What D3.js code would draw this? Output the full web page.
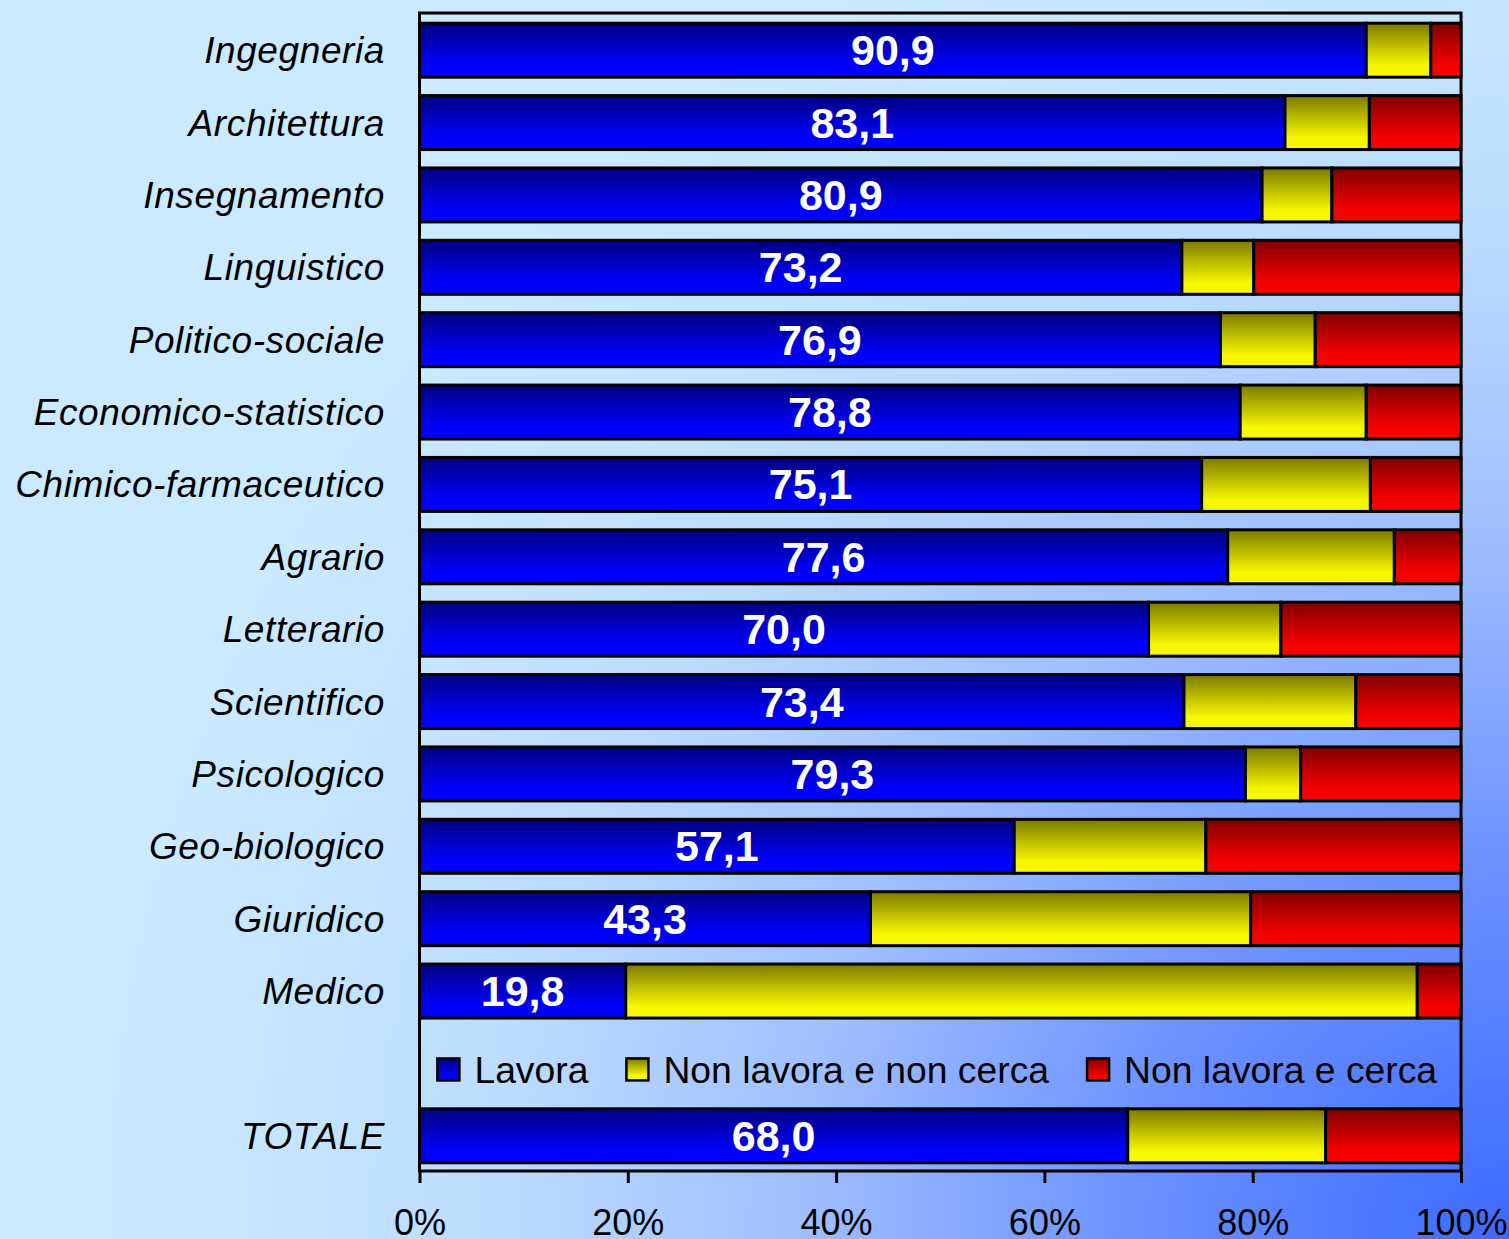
<!DOCTYPE html>
<html>
<head>
<meta charset="utf-8">
<script src="https://cdn.jsdelivr.net/npm/d3@7"></script>
<style>
  html, body { margin: 0; padding: 0; background: #c8e8ff; }
  svg { display: block; }
  text { font-family: "Liberation Sans", Arial, sans-serif; }
</style>
</head>
<body>
<svg id="chart" width="1509" height="1239"></svg>
<script>
// Condizione occupazionale dei laureati per gruppo di corsi (%)
const categories = [
  "Ingegneria", "Architettura", "Insegnamento", "Linguistico", "Politico-sociale",
  "Economico-statistico", "Chimico-farmaceutico", "Agrario", "Letterario",
  "Scientifico", "Psicologico", "Geo-biologico", "Giuridico", "Medico", "TOTALE"
];
const lavora            = [90.9, 83.1, 80.9, 73.2, 76.9, 78.8, 75.1, 77.6, 70.0, 73.4, 79.3, 57.1, 43.3, 19.8, 68.0];
const nonLavoraNonCerca = [ 6.2,  8.1,  6.7,  6.9,  9.1, 12.1, 16.2, 16.0, 12.7, 16.5,  5.3, 18.4, 36.5, 76.0, 19.0];
const nonLavoraCerca    = [ 2.9,  8.8, 12.4, 19.9, 14.0,  9.1,  8.7,  6.4, 17.3, 10.1, 15.4, 24.5, 20.2,  4.2, 13.0];
const seriesNames = ["Lavora", "Non lavora e non cerca", "Non lavora e cerca"];
const tickValues = [0, 20, 40, 60, 80, 100];

const W = 1509, H = 1239;
const svg = d3.select("#chart");
const defs = svg.append("defs");

// page background: light sky blue fading to deep blue towards the lower right
const bg = defs.append("radialGradient").attr("id", "bg")
  .attr("gradientUnits", "userSpaceOnUse")
  .attr("cx", W).attr("cy", H).attr("r", 1400);
[[0, "#3c6aff"], [0.26, "#6a90ff"], [0.5, "#9ebeff"], [0.72, "#bcdcff"], [0.9, "#c6e6ff"], [1, "#cbe9ff"]]
  .forEach(([o, c]) => bg.append("stop").attr("offset", o).attr("stop-color", c));
svg.append("rect").attr("width", W).attr("height", H).attr("fill", "url(#bg)");

// vertical shading for each series
const palette = [["#000080", "#0000ff"], ["#7a7a00", "#f7f700"], ["#800000", "#f70000"]];
palette.forEach((p, i) => {
  const g = defs.append("linearGradient").attr("id", "g" + i)
    .attr("x1", 0).attr("y1", 0).attr("x2", 0).attr("y2", 1);
  g.append("stop").attr("offset", 0).attr("stop-color", p[0]);
  g.append("stop").attr("offset", 0.78).attr("stop-color", p[1]);
  g.append("stop").attr("offset", 1).attr("stop-color", p[1]);
});

const plot = { left: 419.5, right: 1461, top: 13, bottom: 1171 };
const legendSlot = " ";
const slots = categories.slice(0, -1).concat([legendSlot, categories[categories.length - 1]]);

const x = d3.scaleLinear().domain([0, 100]).range([plot.left, plot.right]);
const y = d3.scaleBand().domain(slots).range([plot.top + 1, plot.bottom + 1])
  .paddingInner(0.254).paddingOuter(0.127);
const bw = y.bandwidth();

const rows = categories.map((c, i) => {
  const vals = [lavora[i], nonLavoraNonCerca[i], nonLavoraCerca[i]];
  let acc = 0;
  return { cat: c, segs: vals.map((v, k) => { const s = { k, x0: acc, x1: acc + v }; acc += v; return s; }) };
});

// stacked bars
const bars = svg.append("g");
rows.forEach(r => {
  bars.selectAll(null).data(r.segs).enter().append("rect")
    .attr("x", d => x(d.x0))
    .attr("y", y(r.cat))
    .attr("width", d => x(d.x1) - x(d.x0))
    .attr("height", bw)
    .attr("fill", d => "url(#g" + d.k + ")")
    .attr("stroke", "#000")
    .attr("stroke-width", 3);
});

// plot frame
svg.append("rect")
  .attr("x", plot.left).attr("y", plot.top)
  .attr("width", plot.right - plot.left).attr("height", plot.bottom - plot.top)
  .attr("fill", "none").attr("stroke", "#000").attr("stroke-width", 3);

// values inside the "Lavora" segment
const itFmt = d3.formatLocale({ decimal: ",", thousands: ".", grouping: [3], currency: ["", "€"] }).format(".1f");
svg.append("g").selectAll("text").data(rows).enter().append("text")
  .attr("x", (d, i) => (x(0) + x(lavora[i])) / 2)
  .attr("y", d => y(d.cat) + bw / 2)
  .attr("dy", "0.35em")
  .attr("text-anchor", "middle")
  .attr("fill", "#fff")
  .attr("font-weight", "bold")
  .attr("font-size", 43)
  .text((d, i) => itFmt(lavora[i]));

// category labels
svg.append("g").selectAll("text").data(categories).enter().append("text")
  .attr("x", 385)
  .attr("y", d => y(d) + bw / 2)
  .attr("dy", "0.35em")
  .attr("text-anchor", "end")
  .attr("font-style", "italic")
  .attr("font-size", 37)
  .attr("letter-spacing", 0.6)
  .attr("fill", "#000")
  .text(d => d);

// x axis
const axis = svg.append("g").attr("transform", `translate(0,${plot.bottom})`)
  .call(d3.axisBottom(x).tickValues(tickValues).tickSize(12).tickPadding(26).tickFormat(d => d + "%"));
axis.select(".domain").remove();
axis.selectAll(".tick line").attr("stroke", "#000").attr("stroke-width", 3);
axis.selectAll(".tick text")
  .attr("font-family", "'Liberation Sans', Arial, sans-serif")
  .attr("font-size", 36).attr("fill", "#000");

// legend in the empty slot above TOTALE
const legendY = y(legendSlot) + bw / 2 + 6;
const leg = svg.append("g");
const sq = 22, gapText = 15, gapItem = 38;
let cursor = 0;
seriesNames.forEach((name, i) => {
  const g = leg.append("g");
  g.append("rect").attr("x", 0).attr("y", -sq / 2).attr("width", sq).attr("height", sq)
    .attr("fill", "url(#g" + i + ")").attr("stroke", "#000").attr("stroke-width", 2.5);
  const t = g.append("text").attr("x", sq + gapText).attr("y", 0).attr("dy", "0.36em")
    .attr("font-size", 37.3).attr("fill", "#000").text(name);
  const w = sq + gapText + t.node().getComputedTextLength();
  g.attr("transform", `translate(${cursor},0)`);
  cursor += w + gapItem;
});
const legendWidth = cursor - gapItem;
const legendX = (plot.left + plot.right) / 2 - legendWidth / 2 - 3;
leg.attr("transform", `translate(${legendX},${legendY})`);
</script>
</body>
</html>
